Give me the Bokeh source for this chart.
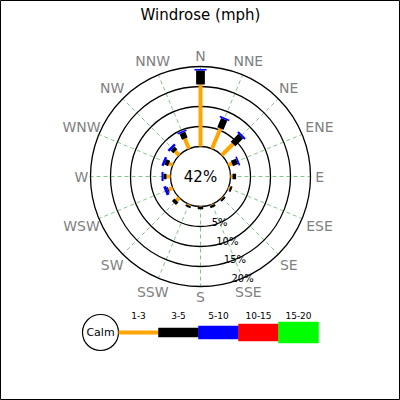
import numpy as np
from bokeh.plotting import figure
from bokeh.models import Range1d
from bokeh.core.properties import value
from bokeh.embed import file_html
from bokeh.resources import INLINE

# ---------------- data ----------------
title_text = "Windrose (mph)"
directions = ["N", "NNE", "NE", "ENE", "E", "ESE", "SE", "SSE",
              "S", "SSW", "SW", "WSW", "W", "WNW", "NW", "NNW"]
speed_bins = ["1-3", "3-5", "5-10", "10-15", "15-20"]
bin_colors = ["#ffa500", "#000000", "#0000ff", "#ff0000", "#00ff00"]
calm_pct = 42
pct_1_3 = [15.5, 5.5, 4.0, 1.0, 0.5, 0.4, 0.2, 0.2, 0.1, 0.3, 1.0, 1.1, 1.0, 1.0, 1.4, 2.75]
pct_3_5 = [3.5, 2.5, 2.75, 1.4, 0.9, 0.5, 0.5, 0.6, 0.6, 0.5, 0.9, 0.25, 0.75, 1.0, 1.0, 1.6]
pct_5_10 = [0.4, 0.4, 0.5, 0.4, 0.0, 0.0, 0.0, 0.0, 0.0, 0.0, 0.0, 0.75, 0.5, 0.6, 0.6, 0.4]
pct_10_15 = [0.0] * 16
pct_15_20 = [0.0] * 16
ring_pcts = [5, 10, 15, 20]
ring_labels = ["5%", "10%", "15%", "20%"]

# ---------------- layout ----------------
R0 = 30.0      # radius of calm circle
K = 4.0        # px per percent
FONT = value("DejaVu Sans")

def rad(p):
    return R0 + K * p

p = figure(width=400, height=400, x_range=Range1d(-200, 200), y_range=Range1d(-224, 176),
           output_backend="svg", toolbar_location=None, min_border=0,
           x_axis_type=None, y_axis_type=None)
p.outline_line_color = "black"
p.outline_line_width = 1
p.background_fill_color = "white"
p.border_fill_color = "white"
p.grid.visible = False

n = len(directions)
theta = np.deg2rad(np.arange(n) * 360.0 / n)
s, c = np.sin(theta), np.cos(theta)

# rings
ring_r = [rad(v) for v in ring_pcts]
p.circle(x=[0] * len(ring_r), y=[0] * len(ring_r), radius=ring_r,
         fill_color=None, line_color="black", line_width=1.3)

# direction spokes
p.segment(x0=rad(0) * s, y0=rad(0) * c, x1=rad(20) * s, y1=rad(20) * c,
          line_color="green", line_alpha=0.6, line_width=0.8, line_dash="4 3")

# calm circle
p.circle(x=[0], y=[0], radius=[R0], fill_color="white", line_color="black", line_width=1.3)

# stacked bars
series = [pct_1_3, pct_3_5, pct_5_10, pct_10_15, pct_15_20]
cum = np.zeros(n)
base_w = [4.0, 4.0, 7.5, 10.0, 12.5]
slope_w = [0.0, 0.045, 0.043, 0.043, 0.043]
for vals, col, bw, sw in zip(series, bin_colors, base_w, slope_w):
    vals = np.array(vals, dtype=float)
    r0 = rad(cum)
    r1 = rad(cum + vals)
    mask = vals > 0
    widths = bw + sw * r1
    p.segment(x0=(r0 * s)[mask], y0=(r0 * c)[mask], x1=(r1 * s)[mask], y1=(r1 * c)[mask],
              line_color=col, line_width=widths[mask].tolist(), line_cap="butt")
    cum = cum + vals

# direction labels
lx, ly = [], []
for d, si, ci in zip(directions, s, c):
    a = 4.2 * len(d)
    b = 5.5
    rc = 115 + a * abs(si) + b * abs(ci)
    lx.append(rc * si)
    ly.append(rc * ci)
p.text(x=lx, y=ly, text=directions, text_font=FONT, text_font_size="14px",
       text_color="#7f7f7f", text_align="center", text_baseline="middle")

# ring percentage labels along SSE
ang = np.deg2rad(157.5)
p.text(x=[rad(v) * np.sin(ang) for v in ring_pcts], y=[rad(v) * np.cos(ang) for v in ring_pcts],
       text=ring_labels, text_font=FONT, text_font_size="10px", text_color="black",
       text_align="center", text_baseline="middle")

# calm text
p.text(x=[0], y=[0], text=["%d%%" % calm_pct], text_font=FONT, text_font_size="15px",
       text_color="black", text_align="center", text_baseline="middle")

# title
p.text(x=[0], y=[162], text=[title_text], text_font=FONT, text_font_size="15px",
       text_color="black", text_align="center", text_baseline="middle")

# legend
leg_y = -156
leg_x0 = -82
seg_w = 40
leg_h = [4, 9, 13, 17, 21]
p.circle(x=[-100], y=[leg_y], radius=[18], fill_color="white", line_color="black", line_width=1.2)
p.text(x=[-100], y=[leg_y], text=["Calm"], text_font=FONT, text_font_size="11px",
       text_color="black", text_align="center", text_baseline="middle")
for i, (lab, col, h) in enumerate(zip(speed_bins, bin_colors, leg_h)):
    xa = leg_x0 + i * seg_w
    if i == 0:
        p.segment(x0=[xa], y0=[leg_y], x1=[xa + seg_w], y1=[leg_y],
                  line_color=col, line_width=h, line_cap="butt")
    else:
        p.quad(left=[xa], right=[xa + seg_w], bottom=[leg_y - h / 2], top=[leg_y + h / 2],
               fill_color=col, line_color=col, line_width=0.5)
    p.text(x=[xa + seg_w / 2], y=[-139], text=[lab], text_font=FONT, text_font_size="9px",
           text_color="black", text_align="center", text_baseline="middle")

open("out.html", "w").write(file_html(p, INLINE))
